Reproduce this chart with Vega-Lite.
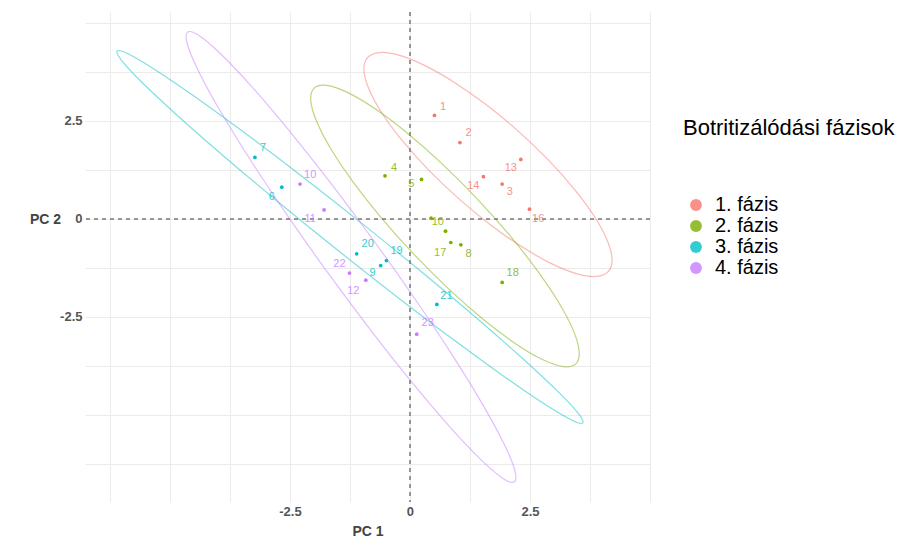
{
  "$schema": "https://vega.github.io/schema/vega-lite/v6.json",
  "width": 565,
  "height": 490,
  "autosize": "none",
  "padding": {"left": 85, "top": 12, "right": 266, "bottom": 44},
  "background": "white",
  "config": {
    "view": {"stroke": null},
    "font": "Liberation Sans"
  },
  "datasets": {
    "pts": [
      {"lab": "1", "grp": "1. fázis", "x": 0.51, "y": 2.64, "lx": 0.69, "ly": 2.85},
      {"lab": "2", "grp": "1. fázis", "x": 1.04, "y": 1.95, "lx": 1.22, "ly": 2.19},
      {"lab": "3", "grp": "1. fázis", "x": 1.92, "y": 0.89, "lx": 2.08, "ly": 0.70},
      {"lab": "13", "grp": "1. fázis", "x": 2.31, "y": 1.52, "lx": 2.10, "ly": 1.29},
      {"lab": "14", "grp": "1. fázis", "x": 1.53, "y": 1.08, "lx": 1.32, "ly": 0.84},
      {"lab": "16", "grp": "1. fázis", "x": 2.49, "y": 0.25, "lx": 2.67, "ly": 0.00},
      {"lab": "4", "grp": "2. fázis", "x": -0.52, "y": 1.10, "lx": -0.33, "ly": 1.29},
      {"lab": "5", "grp": "2. fázis", "x": 0.24, "y": 1.01, "lx": 0.03, "ly": 0.88},
      {"lab": "10", "grp": "2. fázis", "x": 0.44, "y": 0.02, "lx": 0.58, "ly": -0.07},
      {"lab": "", "grp": "2. fázis", "x": 0.74, "y": -0.31, "lx": 0.74, "ly": -0.31},
      {"lab": "17", "grp": "2. fázis", "x": 0.85, "y": -0.60, "lx": 0.63, "ly": -0.88},
      {"lab": "8", "grp": "2. fázis", "x": 1.06, "y": -0.66, "lx": 1.22, "ly": -0.89},
      {"lab": "18", "grp": "2. fázis", "x": 1.92, "y": -1.62, "lx": 2.14, "ly": -1.39},
      {"lab": "7", "grp": "3. fázis", "x": -3.23, "y": 1.57, "lx": -3.06, "ly": 1.80},
      {"lab": "6", "grp": "3. fázis", "x": -2.67, "y": 0.81, "lx": -2.88, "ly": 0.57},
      {"lab": "20", "grp": "3. fázis", "x": -1.11, "y": -0.89, "lx": -0.88, "ly": -0.64},
      {"lab": "9", "grp": "3. fázis", "x": -0.61, "y": -1.19, "lx": -0.78, "ly": -1.39},
      {"lab": "19", "grp": "3. fázis", "x": -0.49, "y": -1.06, "lx": -0.28, "ly": -0.81},
      {"lab": "21", "grp": "3. fázis", "x": 0.56, "y": -2.18, "lx": 0.76, "ly": -1.96},
      {"lab": "10", "grp": "4. fázis", "x": -2.29, "y": 0.89, "lx": -2.08, "ly": 1.12},
      {"lab": "11", "grp": "4. fázis", "x": -1.79, "y": 0.23, "lx": -2.08, "ly": -0.01},
      {"lab": "22", "grp": "4. fázis", "x": -1.26, "y": -1.38, "lx": -1.47, "ly": -1.16},
      {"lab": "12", "grp": "4. fázis", "x": -0.92, "y": -1.56, "lx": -1.18, "ly": -1.84},
      {"lab": "23", "grp": "4. fázis", "x": 0.14, "y": -2.94, "lx": 0.37, "ly": -2.66}
    ],
    "ell": [
      {"fazis": "1", "i": 0, "x": 4.133, "y": -1.337},
      {"fazis": "1", "i": 1, "x": 4.209, "y": -1.022},
      {"fazis": "1", "i": 2, "x": 4.108, "y": -0.543},
      {"fazis": "1", "i": 3, "x": 3.839, "y": 0.069},
      {"fazis": "1", "i": 4, "x": 3.418, "y": 0.770},
      {"fazis": "1", "i": 5, "x": 2.875, "y": 1.513},
      {"fazis": "1", "i": 6, "x": 2.248, "y": 2.248},
      {"fazis": "1", "i": 7, "x": 1.577, "y": 2.925},
      {"fazis": "1", "i": 8, "x": 0.910, "y": 3.497},
      {"fazis": "1", "i": 9, "x": 0.292, "y": 3.925},
      {"fazis": "1", "i": 10, "x": -0.236, "y": 4.181},
      {"fazis": "1", "i": 11, "x": -0.636, "y": 4.246},
      {"fazis": "1", "i": 12, "x": -0.883, "y": 4.117},
      {"fazis": "1", "i": 13, "x": -0.959, "y": 3.802},
      {"fazis": "1", "i": 14, "x": -0.858, "y": 3.323},
      {"fazis": "1", "i": 15, "x": -0.589, "y": 2.711},
      {"fazis": "1", "i": 16, "x": -0.168, "y": 2.010},
      {"fazis": "1", "i": 17, "x": 0.375, "y": 1.267},
      {"fazis": "1", "i": 18, "x": 1.003, "y": 0.532},
      {"fazis": "1", "i": 19, "x": 1.673, "y": -0.145},
      {"fazis": "1", "i": 20, "x": 2.340, "y": -0.717},
      {"fazis": "1", "i": 21, "x": 2.958, "y": -1.145},
      {"fazis": "1", "i": 22, "x": 3.486, "y": -1.401},
      {"fazis": "1", "i": 23, "x": 3.886, "y": -1.466},
      {"fazis": "2", "i": 0, "x": 3.454, "y": -3.695},
      {"fazis": "2", "i": 1, "x": 3.525, "y": -3.384},
      {"fazis": "2", "i": 2, "x": 3.406, "y": -2.855},
      {"fazis": "2", "i": 3, "x": 3.105, "y": -2.143},
      {"fazis": "2", "i": 4, "x": 2.641, "y": -1.298},
      {"fazis": "2", "i": 5, "x": 2.047, "y": -0.376},
      {"fazis": "2", "i": 6, "x": 1.364, "y": 0.559},
      {"fazis": "2", "i": 7, "x": 0.637, "y": 1.443},
      {"fazis": "2", "i": 8, "x": -0.084, "y": 2.218},
      {"fazis": "2", "i": 9, "x": -0.749, "y": 2.829},
      {"fazis": "2", "i": 10, "x": -1.314, "y": 3.235},
      {"fazis": "2", "i": 11, "x": -1.739, "y": 3.408},
      {"fazis": "2", "i": 12, "x": -1.996, "y": 3.337},
      {"fazis": "2", "i": 13, "x": -2.067, "y": 3.026},
      {"fazis": "2", "i": 14, "x": -1.948, "y": 2.497},
      {"fazis": "2", "i": 15, "x": -1.647, "y": 1.785},
      {"fazis": "2", "i": 16, "x": -1.183, "y": 0.940},
      {"fazis": "2", "i": 17, "x": -0.589, "y": 0.018},
      {"fazis": "2", "i": 18, "x": 0.094, "y": -0.917},
      {"fazis": "2", "i": 19, "x": 0.821, "y": -1.801},
      {"fazis": "2", "i": 20, "x": 1.542, "y": -2.576},
      {"fazis": "2", "i": 21, "x": 2.207, "y": -3.187},
      {"fazis": "2", "i": 22, "x": 2.772, "y": -3.593},
      {"fazis": "2", "i": 23, "x": 3.197, "y": -3.766},
      {"fazis": "3", "i": 0, "x": 3.602, "y": -5.202},
      {"fazis": "3", "i": 1, "x": 3.497, "y": -4.947},
      {"fazis": "3", "i": 2, "x": 3.069, "y": -4.387},
      {"fazis": "3", "i": 3, "x": 2.346, "y": -3.559},
      {"fazis": "3", "i": 4, "x": 1.379, "y": -2.520},
      {"fazis": "3", "i": 5, "x": 0.232, "y": -1.340},
      {"fazis": "3", "i": 6, "x": -1.016, "y": -0.100},
      {"fazis": "3", "i": 7, "x": -2.280, "y": 1.115},
      {"fazis": "3", "i": 8, "x": -3.473, "y": 2.223},
      {"fazis": "3", "i": 9, "x": -4.516, "y": 3.149},
      {"fazis": "3", "i": 10, "x": -5.335, "y": 3.828},
      {"fazis": "3", "i": 11, "x": -5.876, "y": 4.215},
      {"fazis": "3", "i": 12, "x": -6.102, "y": 4.284},
      {"fazis": "3", "i": 13, "x": -5.997, "y": 4.029},
      {"fazis": "3", "i": 14, "x": -5.569, "y": 3.469},
      {"fazis": "3", "i": 15, "x": -4.846, "y": 2.641},
      {"fazis": "3", "i": 16, "x": -3.879, "y": 1.602},
      {"fazis": "3", "i": 17, "x": -2.732, "y": 0.422},
      {"fazis": "3", "i": 18, "x": -1.484, "y": -0.818},
      {"fazis": "3", "i": 19, "x": -0.220, "y": -2.033},
      {"fazis": "3", "i": 20, "x": 0.973, "y": -3.141},
      {"fazis": "3", "i": 21, "x": 2.016, "y": -4.067},
      {"fazis": "3", "i": 22, "x": 2.835, "y": -4.746},
      {"fazis": "3", "i": 23, "x": 3.376, "y": -5.133},
      {"fazis": "4", "i": 0, "x": 2.175, "y": -6.706},
      {"fazis": "4", "i": 1, "x": 2.181, "y": -6.401},
      {"fazis": "4", "i": 2, "x": 1.955, "y": -5.727},
      {"fazis": "4", "i": 3, "x": 1.512, "y": -4.729},
      {"fazis": "4", "i": 4, "x": 0.882, "y": -3.474},
      {"fazis": "4", "i": 5, "x": 0.108, "y": -2.048},
      {"fazis": "4", "i": 6, "x": -0.757, "y": -0.549},
      {"fazis": "4", "i": 7, "x": -1.654, "y": 0.921},
      {"fazis": "4", "i": 8, "x": -2.522, "y": 2.263},
      {"fazis": "4", "i": 9, "x": -3.302, "y": 3.385},
      {"fazis": "4", "i": 10, "x": -3.941, "y": 4.209},
      {"fazis": "4", "i": 11, "x": -4.395, "y": 4.681},
      {"fazis": "4", "i": 12, "x": -4.633, "y": 4.768},
      {"fazis": "4", "i": 13, "x": -4.639, "y": 4.463},
      {"fazis": "4", "i": 14, "x": -4.413, "y": 3.789},
      {"fazis": "4", "i": 15, "x": -3.970, "y": 2.791},
      {"fazis": "4", "i": 16, "x": -3.340, "y": 1.536},
      {"fazis": "4", "i": 17, "x": -2.566, "y": 0.110},
      {"fazis": "4", "i": 18, "x": -1.701, "y": -1.389},
      {"fazis": "4", "i": 19, "x": -0.804, "y": -2.859},
      {"fazis": "4", "i": 20, "x": 0.064, "y": -4.201},
      {"fazis": "4", "i": 21, "x": 0.844, "y": -5.323},
      {"fazis": "4", "i": 22, "x": 1.483, "y": -6.147},
      {"fazis": "4", "i": 23, "x": 1.937, "y": -6.619}
    ]
  },
  "layer": [
    {
      "data": {"name": "ell"},
      "mark": {"type": "line", "interpolate": "cardinal-closed", "strokeWidth": 1.2, "opacity": 0.5},
      "encoding": {
        "x": {"field": "x", "type": "quantitative", "scale": {"domain": [-6.77, 5.0], "nice": false, "zero": false},
          "axis": {"title": "PC 1", "values": [-6.25, -5, -3.75, -2.5, -1.25, 0, 1.25, 2.5, 3.75, 5], "labelExpr": "datum.value == 0 ? '0' : datum.value == 2.5 ? '2.5' : datum.value == -2.5 ? '-2.5' : ''", "grid": true, "ticks": false, "domain": false, "gridColor": "#ebebeb", "labelFont": "Liberation Sans", "labelFontSize": 13, "labelFontWeight": "bold", "labelColor": "#555555", "labelPadding": 3, "labelFlush": false, "titleFont": "Liberation Sans", "titleFontSize": 14, "titleFontWeight": "bold", "titleColor": "#444444", "titlePadding": 6}},
        "y": {"field": "y", "type": "quantitative", "scale": {"domain": [-7.22, 5.28], "nice": false, "zero": false},
          "axis": {"title": "PC 2", "values": [-6.25, -5, -3.75, -2.5, -1.25, 0, 1.25, 2.5, 3.75, 5], "labelExpr": "datum.value == 0 ? '0' : datum.value == 2.5 ? '2.5' : datum.value == -2.5 ? '-2.5' : ''", "grid": true, "ticks": false, "domain": false, "gridColor": "#ebebeb", "labelFont": "Liberation Sans", "labelFontSize": 13, "labelFontWeight": "bold", "labelColor": "#555555", "labelPadding": 3, "labelFlush": false, "titleFont": "Liberation Sans", "titleFontSize": 14, "titleFontWeight": "bold", "titleColor": "#444444", "titleAngle": 0, "titleX": -40, "titleY": 207, "titleAlign": "center", "titleBaseline": "middle"}},
        "stroke": {"field": "fazis", "type": "nominal", "scale": {"domain": ["1", "2", "3", "4"], "range": ["#F8766D", "#7CAE00", "#00BFC4", "#C77CFF"]}, "legend": null},
        "order": {"field": "i", "type": "quantitative"}
      }
    },
    {
      "data": {"values": [{}]},
      "mark": {"type": "rule", "strokeDash": [4, 4], "color": "#777777", "strokeWidth": 1.5},
      "encoding": {"x": {"datum": 0, "type": "quantitative"}}
    },
    {
      "data": {"values": [{}]},
      "mark": {"type": "rule", "strokeDash": [4, 4], "color": "#777777", "strokeWidth": 1.5},
      "encoding": {"y": {"datum": 0, "type": "quantitative"}}
    },
    {
      "data": {"name": "pts"},
      "mark": {"type": "point", "filled": true, "size": 14, "opacity": 1},
      "encoding": {
        "x": {"field": "x", "type": "quantitative"},
        "y": {"field": "y", "type": "quantitative"},
        "color": {"field": "grp", "type": "nominal", "scale": {"domain": ["1. fázis", "2. fázis", "3. fázis", "4. fázis"], "range": ["#F8766D", "#7CAE00", "#00BFC4", "#C77CFF"]},
          "legend": {"title": "Botritizálódási fázisok", "orient": "none", "legendX": 598, "legendY": 106, "direction": "vertical", "titleFont": "Liberation Sans", "titleFontSize": 22, "titleFontWeight": "normal", "titleColor": "#000000", "titleLimit": 400, "titlePadding": 55, "labelFont": "Liberation Sans", "labelFontSize": 20, "labelColor": "#000000", "labelOffset": 9, "symbolType": "circle", "symbolSize": 140, "symbolOpacity": 1, "symbolStrokeWidth": 0, "symbolOffset": 3, "rowPadding": 1}}
      }
    },
    {
      "data": {"name": "pts"},
      "mark": {"type": "text", "fontSize": 11, "font": "Liberation Sans", "opacity": 0.8},
      "encoding": {
        "x": {"field": "lx", "type": "quantitative"},
        "y": {"field": "ly", "type": "quantitative"},
        "text": {"field": "lab"},
        "color": {"field": "grp", "type": "nominal"}
      }
    }
  ]
}
